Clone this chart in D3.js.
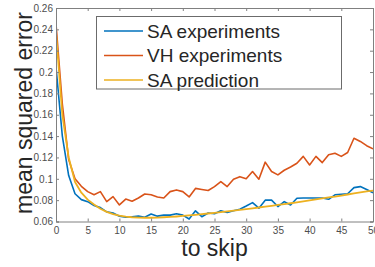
<!DOCTYPE html>
<html><head><meta charset="utf-8">
<script src="https://cdn.jsdelivr.net/npm/d3@7"></script>
<style>body{margin:0;background:#fff}svg{display:block}</style>
</head><body>
<svg id="c" width="375" height="267"></svg>
<script>
const xTicks = [0,5,10,15,20,25,30,35,40,45,50];
const yTicks = [0.06,0.08,0.1,0.12,0.14,0.16,0.18,0.2,0.22,0.24,0.26];
const steps = d3.range(0, 51);
const saExperiments = [0.205,0.14,0.103,0.086,0.0805,0.0786,0.075,0.073,0.069,0.068,
  0.065,0.064,0.0645,0.065,0.064,0.067,0.065,0.066,0.066,0.0672,
  0.066,0.0623,0.070,0.0645,0.068,0.0672,0.070,0.0685,0.070,0.0715,
  0.0745,0.0777,0.0725,0.080,0.080,0.074,0.0786,0.0755,0.0818,0.082,
  0.082,0.082,0.082,0.0808,0.085,0.0855,0.086,0.0917,0.0927,0.090,0.087];
const vhExperiments = [0.245,0.17,0.118,0.100,0.093,0.088,0.085,0.088,0.0786,0.0833,
  0.0755,0.081,0.079,0.082,0.0858,0.085,0.083,0.082,0.088,0.0896,
  0.088,0.083,0.091,0.090,0.089,0.0927,0.0974,0.0927,0.0996,0.102,
  0.100,0.1068,0.0996,0.1156,0.1068,0.1037,0.108,0.111,0.1146,0.121,
  0.113,0.121,0.1152,0.1225,0.124,0.121,0.1246,0.138,0.135,0.131,0.128];
const saPrediction = [0.237,0.16,0.12,0.097,0.087,0.0805,0.076,0.072,0.069,0.067,
  0.0655,0.0645,0.064,0.0637,0.0635,0.0635,0.0637,0.064,0.0643,0.0647,
  0.0652,0.0657,0.0663,0.0669,0.0675,0.0681,0.0688,0.0695,0.0702,0.0709,
  0.0716,0.0723,0.0731,0.0739,0.0747,0.0755,0.0763,0.0771,0.078,0.0789,
  0.0798,0.0807,0.0816,0.0825,0.0834,0.0843,0.0853,0.0863,0.0873,0.0883,0.089];
const seriesNames = ["SA experiments","VH experiments","SA prediction"];
const seriesColors = ["#0072BD","#D95319","#EDB120"];

const svg = d3.select("#c");
const L=56, R=373, T=8, B=221.5;
const x = d3.scaleLinear().domain([0,50]).range([L,R]);
const y = d3.scaleLinear().domain([0.06,0.26]).range([B,T]);
const font = "'Liberation Sans', Arial, Helvetica, sans-serif";
const axisCol = "#808080", labCol = "#4d4d4d";

svg.append("clipPath").attr("id","cp").append("rect")
  .attr("x",L).attr("y",T).attr("width",R-L).attr("height",B-T);

const line = d3.line().x((d,i)=>x(steps[i])).y(d=>y(d));
const data = [saExperiments, vhExperiments, saPrediction];
const widths = [1.6,1.6,1.8];
[1,0,2].forEach(k=>{
  svg.append("path").datum(data[k]).attr("d",line)
    .attr("fill","none").attr("stroke",seriesColors[k]).attr("stroke-width",widths[k])
    .attr("stroke-linejoin","round").attr("clip-path","url(#cp)");
});

const gx = svg.append("g").attr("transform",`translate(0,${B})`)
  .call(d3.axisBottom(x).tickValues(xTicks).tickSize(-3).tickPadding(5).tickFormat(d3.format("d")));
const gxt = svg.append("g").attr("transform",`translate(0,${T})`)
  .call(d3.axisTop(x).tickValues(xTicks).tickSize(-3).tickFormat(""));
const gy = svg.append("g").attr("transform",`translate(${L},0)`)
  .call(d3.axisLeft(y).tickValues(yTicks).tickSize(-3).tickPadding(3).tickFormat(d=>String(+d.toFixed(2))));
const gyr = svg.append("g").attr("transform",`translate(${R},0)`)
  .call(d3.axisRight(y).tickValues(yTicks).tickSize(-3).tickFormat(""));
[gx,gxt,gy,gyr].forEach(g=>{
  g.select(".domain").attr("stroke",axisCol).attr("stroke-width",1);
  g.selectAll(".tick line").attr("stroke",axisCol);
  g.selectAll("text").attr("fill",labCol).style("font-family",font).style("font-size","10px");
});
gx.selectAll(".tick").filter(d=>d===0||d===50).select("line").remove();

svg.append("text").attr("transform",`translate(32,113) rotate(-90)`)
  .attr("text-anchor","middle").style("font-family",font).style("font-size","23px")
  .attr("fill","#262626").text("mean squared error");
svg.append("text").attr("x",214.5).attr("y",256)
  .attr("text-anchor","middle").style("font-family",font).style("font-size","23px")
  .attr("fill","#262626").text("to skip");

const lg = svg.append("g");
lg.append("rect").attr("x",96.5).attr("y",16.5).attr("width",245).attr("height",72.5)
  .attr("fill","#fff").attr("stroke","#6b6b6b").attr("stroke-width",1);
const rowsY = [31,55.5,80];
seriesNames.forEach((n,i)=>{
  lg.append("line").attr("x1",104).attr("x2",143).attr("y1",rowsY[i]).attr("y2",rowsY[i])
    .attr("stroke",seriesColors[i]).attr("stroke-width",1.6);
  lg.append("text").attr("x",147).attr("y",rowsY[i]+6.5)
    .style("font-family",font).style("font-size","19px").attr("fill","#262626").text(n);
});
</script>
</body></html>
